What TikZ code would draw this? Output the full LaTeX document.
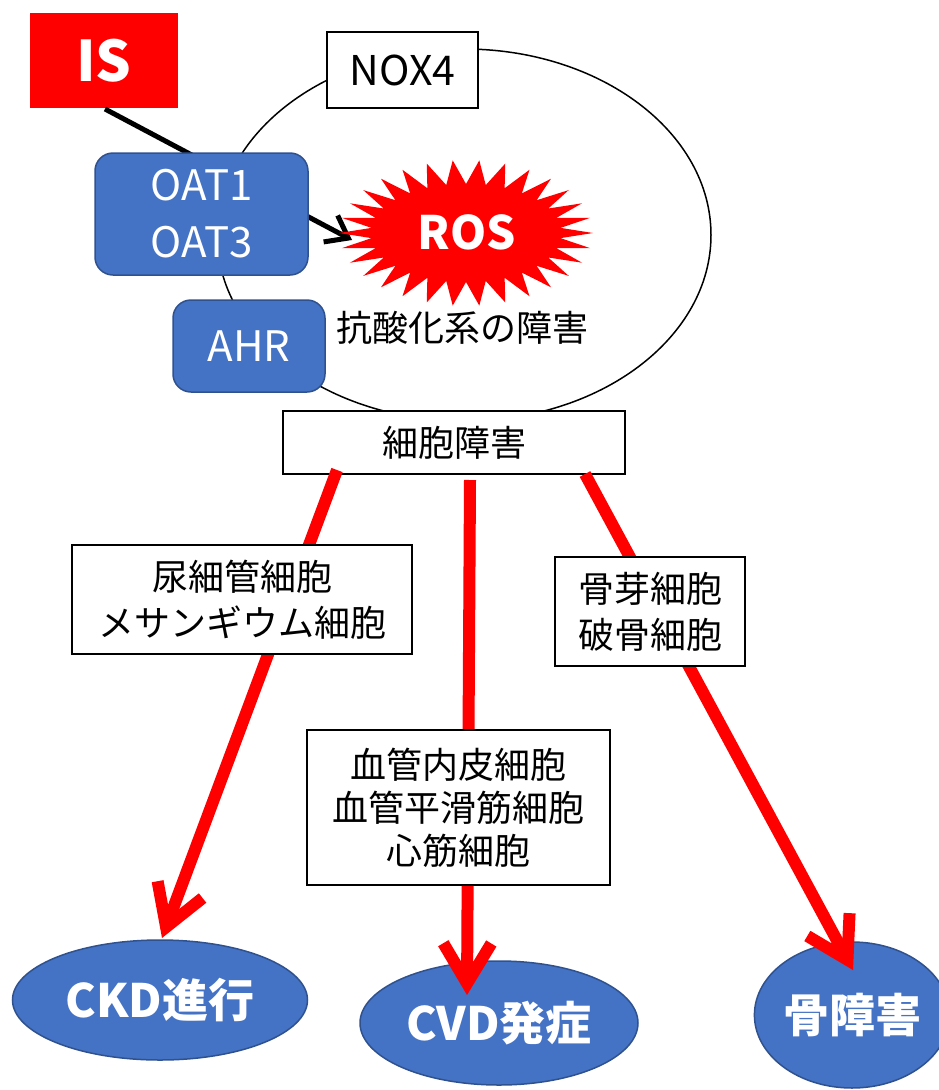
\documentclass[tikz,border=0pt]{standalone}
\usepackage{fontspec}
\setmainfont{Noto Sans CJK JP}
\usetikzlibrary{arrows.meta,shapes.geometric}
\definecolor{boxblue}{HTML}{4472C4}
\definecolor{boxedge}{HTML}{2F528F}
\definecolor{isred}{HTML}{FF0000}
\tikzset{
  whitebox/.style={draw=black,line width=2pt,fill=white,inner sep=0pt,align=center,font=\fontsize{36}{46}\selectfont},
  bluebox/.style={draw=boxedge,line width=1.5pt,fill=boxblue,rounded corners=18pt,inner sep=0pt,align=center,text=white,font=\fontsize{42}{57}\selectfont},
  blueell/.style={ellipse,draw=boxedge,line width=1.5pt,fill=boxblue,inner sep=0pt,text=white,font=\bfseries\fontsize{46}{50}\selectfont},
  redarrow/.style={draw=isred,line width=12pt,-{Straight Barb[length=40pt,width=48pt,line width=12pt]}},
  blackarrow/.style={draw=black,line width=5pt,-{Straight Barb[length=20pt,width=30pt,line width=5pt]}}
}
\begin{document}
\begin{tikzpicture}[x=1pt,y=-1pt]
\useasboundingbox (0,0) rectangle (939,1090);
% cell ellipse
\node[ellipse,draw=black,line width=1.5pt,minimum width=494pt,minimum height=372pt,inner sep=0pt] (cell) at (464,235) {};
% NOX4
\node[whitebox,font=\fontsize{41}{46}\selectfont,minimum width=151pt,minimum height=76pt] (nox) at (402.5,70) {NOX4};
% IS
\node[fill=isred,minimum width=148pt,minimum height=95pt,inner sep=0pt,text=white,font=\bfseries\fontsize{56}{60}\selectfont] (is) at (104,60.5) {IS};
% black arrow IS -> ROS
\coordinate (isout) at (105,109);
\coordinate (rostip) at (352,240);
\draw[blackarrow] (isout) -- (rostip);
% transporters
\node[bluebox,minimum width=213pt,minimum height=122pt] (oat) at (201.5,214) {OAT1\\OAT3};
\node[bluebox,minimum width=152pt,minimum height=92pt] (ahr) at (249,346) {AHR};
% ROS starburst
\fill[isred] plot[samples at={0,...,59}] ({466+ifthenelse(mod(\x,2)==0,127,95)*cos(\x*6)},{233+ifthenelse(mod(\x,2)==0,73,49)*sin(\x*6)}) -- cycle;
\node[text=white,font=\bfseries\fontsize{46}{50}\selectfont] (ros) at (467,232) {ROS};
\node[font=\fontsize{36}{40}\selectfont] (anti) at (462,328) {抗酸化系の障害};
% cell damage
\node[whitebox,minimum width=342pt,minimum height=63pt] (harm) at (454,442.5) {細胞障害};
% outcome ellipses
\node[blueell,minimum width=295pt,minimum height=120pt] (ckd) at (160,1000) {CKD進行};
\node[blueell,minimum width=278pt,minimum height=124pt] (cvd) at (499,1023) {CVD発症};
\node[blueell,minimum width=176pt,minimum height=146pt] (bone) at (852,1015) {骨障害};
% red arrows
\coordinate (s1) at (337,470);
\coordinate (t1) at (162,938);
\coordinate (s2) at (470,480);
\coordinate (t2) at (467,995);
\coordinate (s3) at (585,474);
\coordinate (t3) at (853,970);
\draw[redarrow] (s1) -- (t1);
\draw[redarrow] (s2) -- (t2);
\draw[redarrow] (s3) -- (t3);
% cell-type labels
\node[whitebox,minimum width=340pt,minimum height=109pt] (lab1) at (242,599.5) {尿細管細胞\\メサンギウム細胞};
\node[whitebox,font=\fontsize{36}{43}\selectfont,minimum width=303pt,minimum height=155pt] (lab2) at (458.5,807.5) {血管内皮細胞\\血管平滑筋細胞\\心筋細胞};
\node[whitebox,minimum width=190pt,minimum height=109pt] (lab3) at (650,611.5) {骨芽細胞\\破骨細胞};
\end{tikzpicture}
\end{document}
